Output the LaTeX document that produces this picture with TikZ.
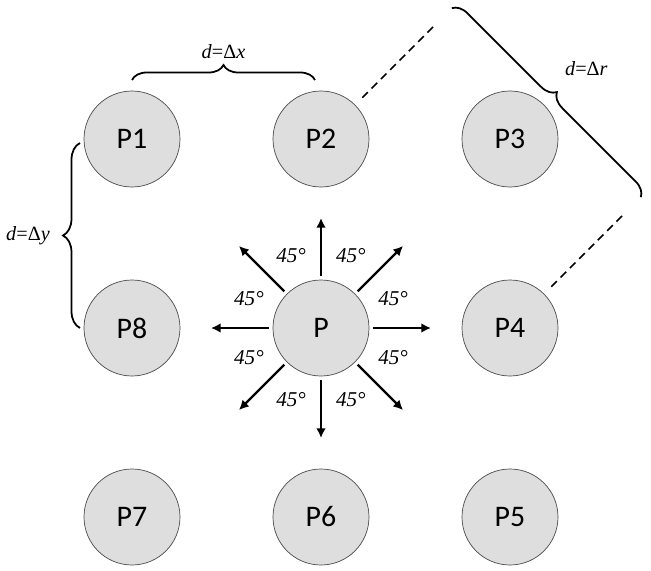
\documentclass[tikz,border=0pt]{standalone}
\usepackage{fontspec}
\usetikzlibrary{arrows.meta, calc, decorations.pathreplacing}
\newfontfamily\ptfont{Carlito}
\newfontfamily\lblfont{Liberation Serif}
\definecolor{ptfill}{RGB}{222,222,222}
\tikzstyle{pt}=[circle, draw=black!70, fill=ptfill, minimum size=1.92cm, inner sep=0pt,
                font=\ptfont\fontsize{17}{20}\selectfont]
\tikzstyle{ar}=[-{Latex[length=5.5pt,width=5.5pt]}, line width=1.3pt, shorten <=2pt]
\tikzstyle{brc}=[decorate, decoration={brace, amplitude=0.3cm}, line width=1pt]
\tikzstyle{dsh}=[line width=1pt, dash pattern=on 4.5pt off 3pt, shorten <=0.2cm]
\tikzstyle{ang}=[font=\lblfont\itshape\fontsize{12}{14}\selectfont]
\tikzstyle{dist}=[font=\lblfont\fontsize{11.5}{14}\selectfont]

\begin{document}
\begin{tikzpicture}
    \useasboundingbox (-6.42,-4.84) rectangle (6.6,6.56);
    % the nine points
    \node[pt] (P)  at (0,0)          {P};
    \node[pt] (P1) at (-3.78,3.78)   {P1};
    \node[pt] (P2) at (0,3.78)       {P2};
    \node[pt] (P3) at (3.78,3.78)    {P3};
    \node[pt] (P4) at (3.78,0)       {P4};
    \node[pt] (P5) at (3.78,-3.78)   {P5};
    \node[pt] (P6) at (0,-3.78)      {P6};
    \node[pt] (P7) at (-3.78,-3.78)  {P7};
    \node[pt] (P8) at (-3.78,0)      {P8};
    % directions around P
    \foreach \a in {0,90,180,270} \coordinate (t\a) at (\a:2.2);
    \foreach \a in {45,135,225,315} \coordinate (t\a) at (\a:2.32);
    \foreach \a in {0,45,...,315} \draw[ar] (P) -- (t\a);
    \foreach \a [count=\i] in {22.5,67.5,...,337.5}
        \node[ang] (g\i) at (\a:1.56) {45°};
    % distances
    \coordinate (xa) at (-3.78,4.96); \coordinate (xb) at (-0.12,4.96);
    \draw[brc] (xa) -- (xb) node[dist, midway, yshift=0.56cm] (dx) {\textit{d}=Δ\textit{x}};
    \coordinate (ya) at (-4.82,0); \coordinate (yb) at (-4.82,3.7);
    \draw[brc, decoration={amplitude=0.34cm}] (ya) -- (yb)
        node[dist, midway, xshift=-1.04cm] (dy) {\textit{d}=Δ\textit{y}};
    \coordinate (ra) at ($(P2)+(45:3.2)$); \coordinate (rb) at ($(P4)+(45:3.2)$);
    \draw[dsh] (P2) -- (ra); \draw[dsh] (P4) -- (rb);
    \coordinate (rc) at ($(P2)+(45:3.7)$); \coordinate (rd) at ($(P4)+(45:3.7)$);
    \draw[brc] (rc) -- (rd);
    \node[dist] (dr) at ($(P2)!0.5!(P4)+(44:4.75)$) {\textit{d}=Δ\textit{r}};
\end{tikzpicture}
\end{document}
